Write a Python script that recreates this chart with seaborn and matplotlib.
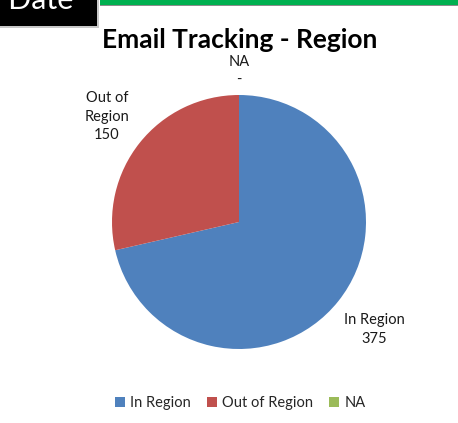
import matplotlib
matplotlib.use("Agg")

import numpy as np
import seaborn as sns
import matplotlib.pyplot as plt
import matplotlib.patches as mpatches

# Data
categories = ["In Region", "Out of Region", "NA"]
counts = [375, 150, 0]
value_labels = ["375", "150", "-"]
label_texts = ["In Region", "Out of\nRegion", "NA"]

sns.set_style("white")
plt.rcParams['font.family'] = ['Lato', 'DejaVu Sans']

colors = ['#4F81BD', '#C0504D', '#9BBB59']

W, H = 458, 423
fig = plt.figure(figsize=(W / 100, H / 100), dpi=100)

# pie axes: centre (239, 222) px, radius 127 px, limits +-1.5
side = 381
ax = fig.add_axes([(239 - side / 2) / W, (H - 222 - side / 2) / H, side / W, side / H])
wedges, _ = ax.pie(counts, colors=colors, startangle=90, counterclock=False,
                   radius=1.0, wedgeprops=dict(linewidth=0))
ax.set_xlim(-1.5, 1.5)
ax.set_ylim(-1.5, 1.5)
ax.set_aspect('equal')
ax.axis('off')

# data labels outside the slices
label_dist = [1.36, 1.33, 1.19]
for w, name, val, d in zip(wedges, label_texts, value_labels, label_dist):
    mid = np.deg2rad((w.theta1 + w.theta2) / 2)
    ax.text(d * np.cos(mid), d * np.sin(mid), name + "\n" + val,
            ha='center', va='center', fontsize=10.5, color='#1a1a1a',
            linespacing=1.4)

# title
fig.text(240 / W, 1 - 40 / H, "Email Tracking - Region", ha='center', va='center',
         fontsize=19, fontweight='bold', color='black')

# legend
handles = [mpatches.Patch(facecolor=c, edgecolor='none', label=n) for c, n in zip(colors, categories)]
fig.legend(handles=handles, loc='center', bbox_to_anchor=(240 / W, 1 - 403 / H), ncol=3,
           frameon=False, fontsize=10.5, handlelength=0.7, handleheight=0.7,
           handletextpad=0.35, columnspacing=1.1)

# green header strip + grey line
fig.patches.append(mpatches.Rectangle((100 / W, 1 - 5 / H), 1, 5 / H, transform=fig.transFigure,
                                      facecolor='#00B050', edgecolor='none'))
fig.patches.append(mpatches.Rectangle((100 / W, 1 - 6.5 / H), 1, 1.5 / H, transform=fig.transFigure,
                                      facecolor='#8C8C8C', edgecolor='none'))

# black "To Date" box with shadow, cut off at the top-left
fig.patches.append(mpatches.Rectangle((0, 1 - 28 / H), 99 / W, 28 / H, transform=fig.transFigure,
                                      facecolor='#C8C8C8', edgecolor='none'))
fig.patches.append(mpatches.Rectangle((0, 1 - 26 / H), 97 / W, 26 / H, transform=fig.transFigure,
                                      facecolor='black', edgecolor='none'))
fig.text(73 / W, 1 - 9 / H, "To Date", ha='right', va='baseline', fontsize=22, color='white')

fig.savefig("out.png", dpi=100)
plt.close(fig)
